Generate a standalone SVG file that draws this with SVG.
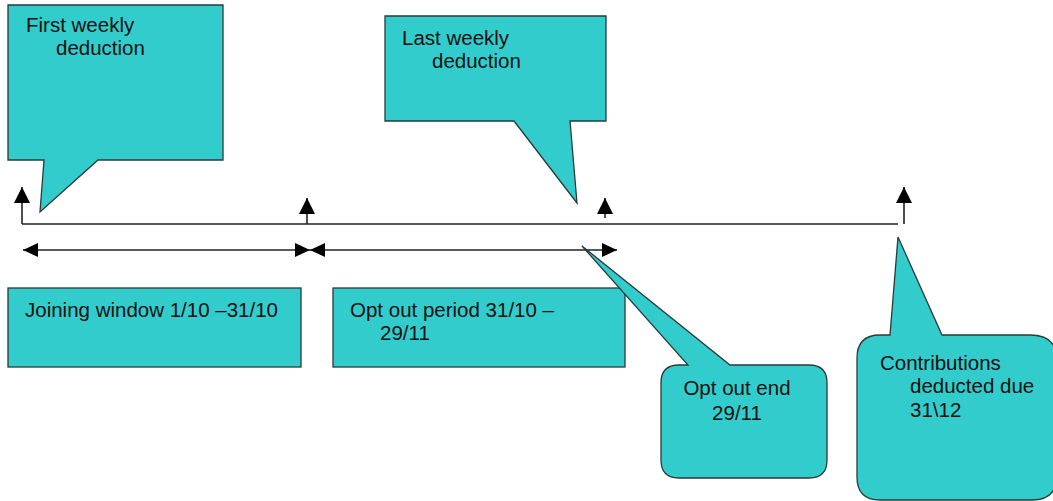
<svg xmlns="http://www.w3.org/2000/svg" width="1053" height="501" viewBox="0 0 1053 501">
<style>
.shape{fill:#33CCCC;stroke:#2a3a3a;stroke-width:1.3;stroke-linejoin:miter}
.lbl{font-family:"Liberation Sans",Arial,sans-serif;font-size:20.5px;fill:#111}
.ln{stroke:#222;stroke-width:1.6;fill:none}
</style>
<defs>
<marker id="ahv" markerUnits="userSpaceOnUse" markerWidth="16" markerHeight="16" viewBox="0 0 16 16" refX="16" refY="8" orient="auto">
<path d="M0,0 L16,8 L0,16 z" fill="#000"/>
</marker>
<marker id="ahh" markerUnits="userSpaceOnUse" markerWidth="15" markerHeight="14" viewBox="0 0 15 14" refX="15" refY="7" orient="auto-start-reverse">
<path d="M0,0 L15,7 L0,14 z" fill="#000"/>
</marker>
</defs>
<rect width="1053" height="501" fill="#fff"/>
<g id="connectors">
<path class="ln" d="M22,224 H898"/>
<path class="ln" d="M22,224 V187" marker-end="url(#ahv)"/>
<path class="ln" d="M307,224 V198" marker-end="url(#ahv)"/>
<path class="ln" d="M605,218 V198" marker-end="url(#ahv)"/>
<path class="ln" d="M904,224 V187" marker-end="url(#ahv)"/>
<path class="ln" d="M23,250 H310" marker-start="url(#ahh)" marker-end="url(#ahh)"/>
<path class="ln" d="M310,250 H617" marker-start="url(#ahh)" marker-end="url(#ahh)"/>
</g>
<g id="first-weekly">
<path class="shape" d="M8,5 H223 V160 H98 L40,212 L44,160 H8 Z"/>
<text class="lbl" x="26" y="32">First weekly</text>
<text class="lbl" x="56" y="55">deduction</text>
</g>
<g id="last-weekly">
<path class="shape" d="M385,16 H606 V121 H570 L577,203 L514,121 H385 Z"/>
<text class="lbl" x="402" y="45">Last weekly</text>
<text class="lbl" x="432" y="68">deduction</text>
</g>
<g id="joining-window">
<rect class="shape" x="8" y="288" width="293" height="79"/>
<text class="lbl" x="25" y="317">Joining window 1/10 –31/10</text>
</g>
<g id="opt-out-period">
<rect class="shape" x="333" y="288" width="292" height="79"/>
<text class="lbl" x="350" y="317">Opt out period 31/10 –</text>
<text class="lbl" x="380" y="340">29/11</text>
</g>
<g id="opt-out-end">
<path class="shape" d="M679,365 H688 L582,246 L730,365 H809 Q827,365 827,383 V460 Q827,478 809,478 H679 Q661,478 661,460 V383 Q661,365 679,365 Z"/>
<text class="lbl" x="737" y="395" text-anchor="middle">Opt out end</text>
<text class="lbl" x="737" y="420" text-anchor="middle">29/11</text>
</g>
<g id="contributions">
<path class="shape" d="M880,335 H890 L898,237 L942,335 H1030 Q1057,335 1057,360 V475 Q1057,500 1032,500 H880 Q857,500 857,477 V358 Q857,335 880,335 Z"/>
<text class="lbl" x="880" y="370">Contributions</text>
<text class="lbl" x="910" y="393">deducted due</text>
<text class="lbl" x="910" y="417">31\12</text>
</g>
</svg>
